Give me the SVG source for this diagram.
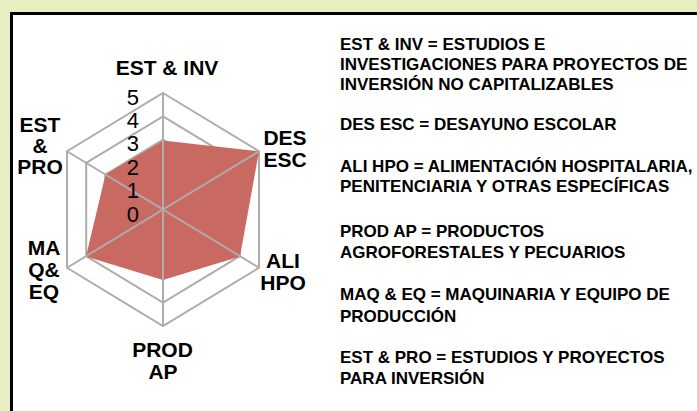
<svg xmlns="http://www.w3.org/2000/svg" width="697" height="411" viewBox="0 0 697 411">
<style>
.lbl{font-family:"Liberation Sans",Arial,sans-serif;font-weight:bold;font-size:21px;fill:#000;text-anchor:middle}
.leg{font-family:"Liberation Sans",Arial,sans-serif;font-weight:bold;font-size:17px;fill:#000}
.num{font-family:"Liberation Sans",Arial,sans-serif;font-size:22px;fill:#000;text-anchor:end}
.ring{fill:none;stroke:#ADADAD;stroke-width:2}
.spoke{stroke:#ADADAD;stroke-width:2}
</style>
<rect x="0" y="0" width="697" height="411" fill="#E7EEBF"/>
<rect x="11.5" y="13.5" width="700" height="410" fill="#FFFFFF" stroke="#000" stroke-width="3"/>
<g id="grid">
<polygon class="ring" points="163,93 259,151.25 259,267.75 163,326 67,267.75 67,151.25"/>
<polygon class="ring" points="163,116.3 239.8,162.9 239.8,256.1 163,302.7 86.2,256.1 86.2,162.9"/>
<polygon class="ring" points="163,139.6 220.6,174.55 220.6,244.45 163,279.4 105.4,244.45 105.4,174.55"/>
</g>
<g id="series">
<polygon points="163,140.5 259,151.25 240,256.5 163,280 86,256.5 105.5,174.5" fill="#C96A62"/>
</g>
<g id="connectors">
<line class="spoke" x1="163" y1="209.5" x2="163" y2="93"/>
<line class="spoke" x1="163" y1="209.5" x2="259" y2="151.25"/>
<line class="spoke" x1="163" y1="209.5" x2="259" y2="267.75"/>
<line class="spoke" x1="163" y1="209.5" x2="163" y2="326"/>
<line class="spoke" x1="163" y1="209.5" x2="67" y2="267.75"/>
<line class="spoke" x1="163" y1="209.5" x2="67" y2="151.25"/>
</g>
<g id="axis-values">
<text class="num" x="139" y="105">5</text>
<text class="num" x="139" y="128">4</text>
<text class="num" x="139" y="151">3</text>
<text class="num" x="139" y="175">2</text>
<text class="num" x="139" y="198">1</text>
<text class="num" x="139" y="221.5">0</text>
</g>
<g id="est-inv"><text class="lbl" x="167" y="75">EST &amp; INV</text></g>
<g id="des-esc"><text class="lbl" x="285" y="145">DES</text><text class="lbl" x="285" y="167">ESC</text></g>
<g id="ali-hpo"><text class="lbl" x="283" y="268">ALI</text><text class="lbl" x="283" y="289.5">HPO</text></g>
<g id="prod-ap"><text class="lbl" x="162.5" y="357">PROD</text><text class="lbl" x="163" y="379">AP</text></g>
<g id="maq-eq"><text class="lbl" x="44" y="255">MA</text><text class="lbl" x="44" y="277">Q&amp;</text><text class="lbl" x="44" y="299">EQ</text></g>
<g id="est-pro"><text class="lbl" x="40" y="131.5">EST</text><text class="lbl" x="40" y="152.5">&amp;</text><text class="lbl" x="40" y="173.5">PRO</text></g>
<g id="legend">
<text class="leg" x="340" y="50">EST &amp; INV = ESTUDIOS E</text>
<text class="leg" x="340" y="70">INVESTIGACIONES PARA PROYECTOS DE</text>
<text class="leg" x="340" y="90">INVERSIÓN NO CAPITALIZABLES</text>
<text class="leg" x="340" y="130">DES ESC = DESAYUNO ESCOLAR</text>
<text class="leg" x="340" y="171.5">ALI HPO = ALIMENTACIÓN HOSPITALARIA,</text>
<text class="leg" x="340" y="191.5">PENITENCIARIA Y OTRAS ESPECÍFICAS</text>
<text class="leg" x="340" y="237">PROD AP = PRODUCTOS</text>
<text class="leg" x="340" y="258">AGROFORESTALES Y PECUARIOS</text>
<text class="leg" x="340" y="300">MAQ &amp; EQ = MAQUINARIA Y EQUIPO DE</text>
<text class="leg" x="340" y="321.5">PRODUCCIÓN</text>
<text class="leg" x="340" y="363">EST &amp; PRO = ESTUDIOS Y PROYECTOS</text>
<text class="leg" x="340" y="384">PARA INVERSIÓN</text>
</g>
</svg>
